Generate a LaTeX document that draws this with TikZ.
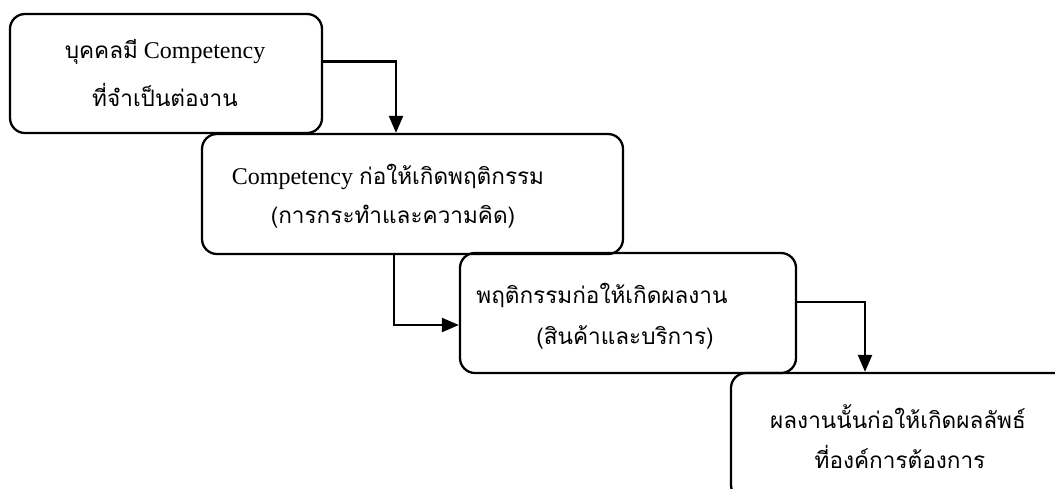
\documentclass[tikz,border=0pt]{standalone}
\usepackage{fontspec}
\setmainfont{Liberation Serif}
\newfontfamily\thai[Script=Thai,Scale=0.94]{Loma}
\usetikzlibrary{arrows.meta}
\tikzset{
  box/.style={draw, line width=2.3pt, rounded corners=15pt, minimum width=#1, inner sep=0pt},
  lbl/.style={inner sep=0pt, anchor=center, font=\fontsize{24}{28}\selectfont},
  arr/.style={line width=2.3pt, -{Triangle[length=17pt,width=14pt]}}
}
\begin{document}
\begin{tikzpicture}[x=1pt,y=-1pt]
\useasboundingbox (0,0) rectangle (1055,488);
\node[box=312pt, minimum height=119pt] (b1) at (166,73.5) {};
\node[box=421pt, minimum height=120pt] (b2) at (412.5,194) {};
\node[box=336pt, minimum height=120pt] (b3) at (628,313) {};
\node[box=344pt, minimum height=127pt] (b4) at (903,436.5) {};

\node[lbl] (t1a) at (165,52) {{\thai บุคคลมี} Competency};
\node[lbl] (t1b) at (165,95) {\thai ที่จำเป็นต่องาน};
\node[lbl] (t2a) at (388,177) {Competency {\thai ก่อให้เกิดพฤติกรรม}};
\node[lbl] (t2b) at (393,217) {\thai (การกระทำและความคิด)};
\node[lbl] (t3a) at (602,295) {\thai พฤติกรรมก่อให้เกิดผลงาน};
\node[lbl] (t3b) at (625,337) {\thai (สินค้าและบริการ)};
\node[lbl] (t4a) at (898,417) {\thai ผลงานนั้นก่อให้เกิดผลลัพธ์};
\node[lbl] (t4b) at (900,457) {\thai ที่องค์การต้องการ};

\draw[arr] ([yshift=12pt]b1.east) -| ([xshift=-16.5pt]b2.north);
\draw[arr] ([xshift=-18.5pt]b2.south) |- ([yshift=-12pt]b3.west);
\draw[arr] ([yshift=11pt]b3.east) -| ([xshift=-38pt]b4.north);
\end{tikzpicture}
\end{document}
